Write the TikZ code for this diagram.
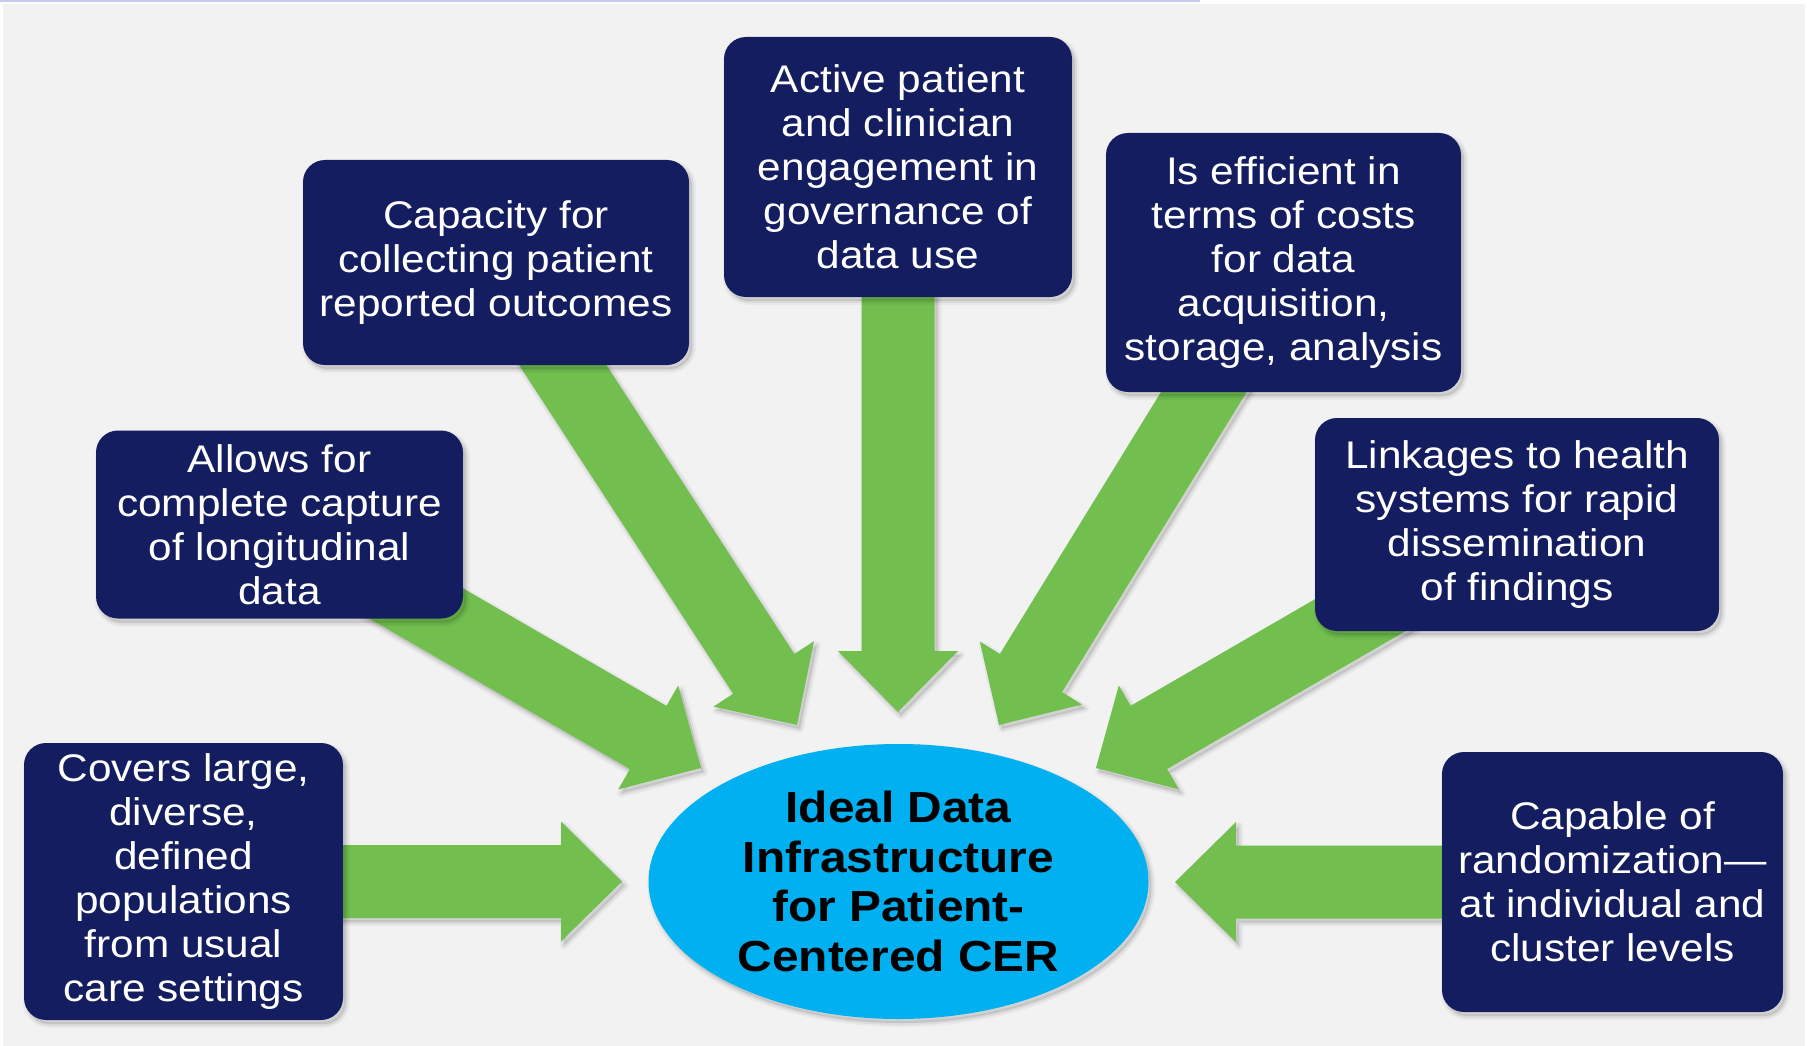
\documentclass[tikz,border=0pt]{standalone}
\usepackage{fontspec}
\setmainfont{Liberation Sans}[FakeStretch=1.1]
\usetikzlibrary{calc,shapes.geometric,shadows}

\definecolor{pagegrey}{RGB}{242,242,242}
\definecolor{navy}{RGB}{19,29,95}
\definecolor{leafgreen}{RGB}{114,191,79}
\definecolor{skyblue}{RGB}{0,176,240}
\definecolor{lavender}{RGB}{196,202,236}

\pgfdeclarelayer{bg}
\pgfdeclarelayer{arrows}
\pgfsetlayers{bg,arrows,main}

\tikzset{
  softshadow/.style={
    general shadow={draw=black, line width=8pt, line join=round, opacity=0.035,
                    shadow xshift=3pt, shadow yshift=-4pt},
    general shadow={draw=black, line width=4pt, line join=round, opacity=0.06,
                    shadow xshift=3pt, shadow yshift=-4pt},
    general shadow={fill=black, opacity=0.10, shadow xshift=3pt, shadow yshift=-4pt}},
  infobox/.style={rectangle, rounded corners=22pt, fill=navy, text=white,
      align=center, inner sep=0pt, softshadow,
      font=\fontsize{38.5}{44}\selectfont},
  hubshape/.style={ellipse, fill=skyblue, text=black, align=center,
      inner sep=0pt, minimum width=500pt, minimum height=275pt, softshadow,
      font=\bfseries\fontsize{43.5}{49.5}\selectfont},
  arrowfill/.style={fill=leafgreen, softshadow},
}

% Block arrow: shaft 73pt wide, head 120pt wide and 61pt long,
% running from the centre of node #1 to the point #2.
\newcommand\greenarrow[2]{%
  \path ($(#2)!61pt!(#1.center)$) coordinate (hb);
  \fill[arrowfill]
    ($(#1.center)!36.5pt!90:(#2)$) -- ($(hb)!36.5pt!90:(#2)$)
    -- ($(hb)!60pt!90:(#2)$) -- (#2) -- ($(hb)!60pt!-90:(#2)$)
    -- ($(hb)!36.5pt!-90:(#2)$) -- ($(#1.center)!36.5pt!-90:(#2)$) -- cycle;
}

\begin{document}
\begin{tikzpicture}[x=1pt,y=-1pt]
\useasboundingbox (0,0) rectangle (1807,1046);

\begin{pgfonlayer}{bg}
  \fill[white] (0,0) rectangle (1807,1046);
  \fill[pagegrey] (3,4) rectangle (1805,1046);
  \fill[lavender] (0,0) rectangle (1200,2.5);
\end{pgfonlayer}

% central hub
\node[hubshape] (core) at (898.5,881.5)
  {Ideal Data\\Infrastructure\\for Patient-\\Centered CER};

% surrounding requirement boxes
\node[infobox, minimum width=319pt, minimum height=277pt] (covers) at (183.5,881.5)
  {Covers large,\\diverse,\\defined\\populations\\from usual\\care settings};
\node[infobox, minimum width=367pt, minimum height=188pt] (allows) at (279.5,524.5)
  {Allows for\\complete capture\\of longitudinal\\data};
\node[infobox, minimum width=386pt, minimum height=205pt] (capacity) at (496,262.5)
  {Capacity for\\collecting patient\\reported outcomes};
\node[infobox, minimum width=348pt, minimum height=260pt] (active) at (898,167)
  {Active patient\\and clinician\\engagement in\\governance of\\data use};
\node[infobox, minimum width=355pt, minimum height=259pt] (efficient) at (1283.5,262.5)
  {Is efficient in\\terms of costs\\for data\\acquisition,\\storage, analysis};
\node[infobox, minimum width=404pt, minimum height=213pt] (linkages) at (1517,524.5)
  {Linkages to health\\systems for rapid\\dissemination\\of findings};
\node[infobox, minimum width=341pt, minimum height=260pt] (capable) at (1612.5,882)
  {Capable of\\randomization—\\at individual and\\cluster levels};

% arrow tips around the hub
\coordinate (tipcovers)    at (622,881.5);
\coordinate (tipallows)    at (701,768);
\coordinate (tipcapacity)  at (797,725);
\coordinate (tipactive)    at (898,712);
\coordinate (tipefficient) at (999,725);
\coordinate (tiplinkages)  at (1096,768);
\coordinate (tipcapable)   at (1175,882);

\begin{pgfonlayer}{arrows}
  \greenarrow{covers}{tipcovers}
  \greenarrow{allows}{tipallows}
  \greenarrow{capacity}{tipcapacity}
  \greenarrow{active}{tipactive}
  \greenarrow{efficient}{tipefficient}
  \greenarrow{linkages}{tiplinkages}
  \greenarrow{capable}{tipcapable}
\end{pgfonlayer}
\end{tikzpicture}
\end{document}
